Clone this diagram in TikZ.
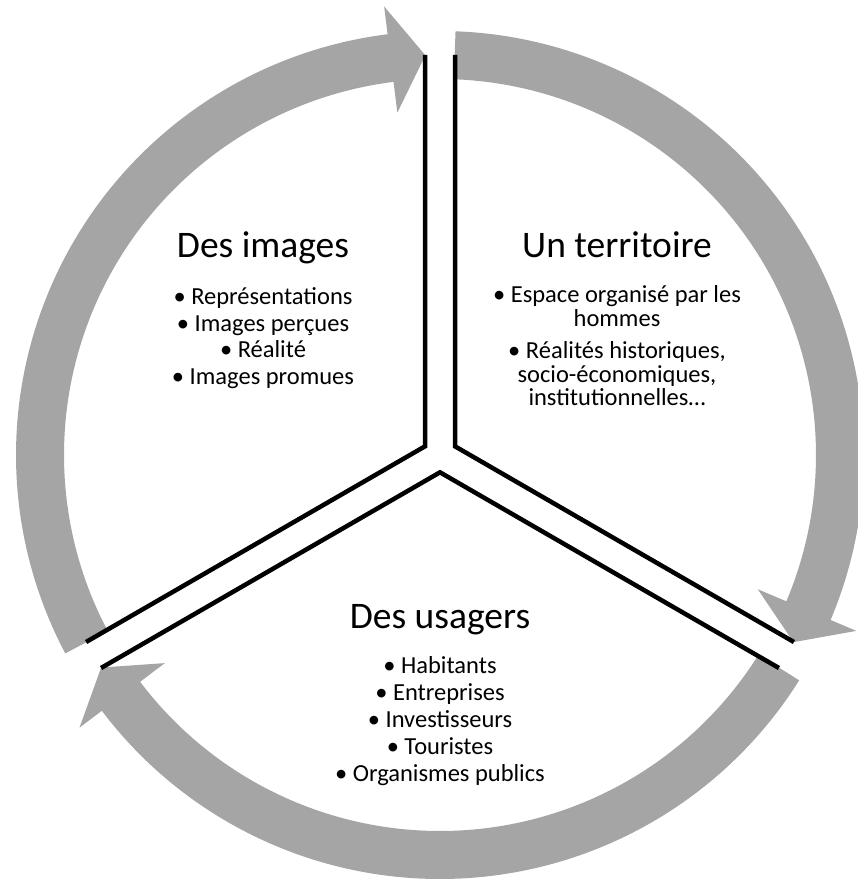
\documentclass[tikz,border=0pt]{standalone}
\usepackage{fontspec}
\setmainfont{Carlito}
\usetikzlibrary{positioning}
\definecolor{gris}{HTML}{A5A5A5}

\begin{document}
\begin{tikzpicture}[x=1pt, y=1pt,
    anneau/.style={fill=gris},
    trait/.style={draw=black, line width=4.5pt, line join=miter},
    titre/.style={inner sep=0pt, font=\fontsize{37.5}{44}\selectfont},
    liste/.style={inner sep=0pt, align=center, font=\fontsize{24.5}{26.5}\selectfont}]
  \useasboundingbox (-440,-428) rectangle (418,455);

  % les trois fleches de l'anneau
  \fill[anneau] (207.9:376) arc[start angle=207.9, end angle=97.1, radius=376pt]
      -- (97.1:345) -- (92.1:400) -- (97.1:452) -- (97.1:424)
      arc[start angle=97.1, end angle=207.9, radius=424pt] -- cycle;
  \fill[anneau] (87.9:376) arc[start angle=87.9, end angle=-22.9, radius=376pt]
      -- (-22.9:345) -- (-27.9:400) -- (-22.9:452) -- (-22.9:424)
      arc[start angle=-22.9, end angle=87.9, radius=424pt] -- cycle;
  \fill[anneau] (-32.1:376) arc[start angle=-32.1, end angle=-142.9, radius=376pt]
      -- (-142.9:345) -- (-147.9:400) -- (-142.9:452) -- (-142.9:424)
      arc[start angle=-142.9, end angle=-32.1, radius=424pt] -- cycle;

  % les separations
  \coordinate (c1) at (150:17.32);
  \coordinate (c2) at (30:17.32);
  \coordinate (c3) at (-90:17.32);
  \coordinate (h1) at ([shift={(180:15)}]90:400);
  \coordinate (h2) at ([shift={(0:15)}]90:400);
  \coordinate (g1) at ([shift={(120:15)}]210:400);
  \coordinate (g2) at ([shift={(300:15)}]210:400);
  \coordinate (d1) at ([shift={(60:15)}]-30:400);
  \coordinate (d2) at ([shift={(240:15)}]-30:400);
  \draw[trait] (g1) -- (c1) -- (h1);
  \draw[trait] (h2) -- (c2) -- (d1);
  \draw[trait] (d2) -- (c3) -- (g2);

  % textes
  \node[titre, anchor=base] (images) at (-177,197) {Des images};
  \node[liste] (images-l) [below=23pt of images]
      {• Représentations\\• Images perçues\\• Réalité\\• Images promues};

  \node[titre, anchor=base] (territoire) at (177,197) {Un territoire};
  \node[liste, font=\fontsize{24.5}{23.5}\selectfont] (territoire-l) [below=27pt of territoire]
      {• Espace organisé par les\\hommes\\[9pt]• Réalités historiques,\\socio-économiques,\\institutionnelles…};

  \node[titre, anchor=base] (usagers) at (0,-173) {Des usagers};
  \node[liste, font=\fontsize{24.5}{27}\selectfont] (usagers-l) [below=22pt of usagers]
      {• Habitants\\• Entreprises\\• Investisseurs\\• Touristes\\• Organismes publics};
\end{tikzpicture}
\end{document}
